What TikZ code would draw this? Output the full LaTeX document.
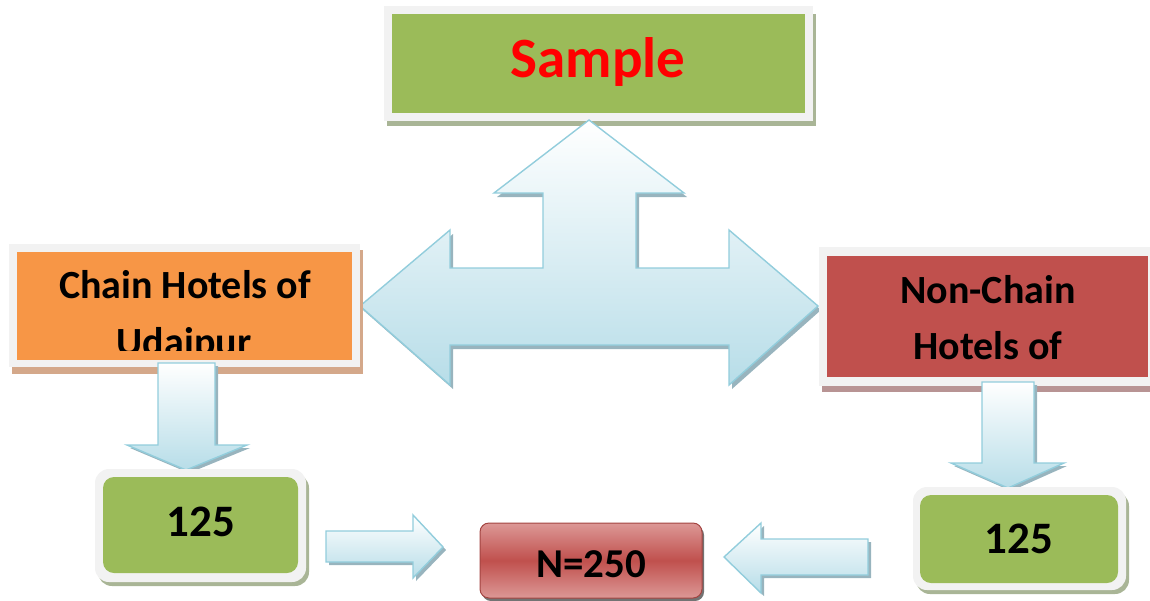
\documentclass[tikz,border=0pt]{standalone}
\usepackage{fontspec}
\setmainfont{Carlito}
\definecolor{cgreen}{HTML}{9BBB59}
\definecolor{corange}{HTML}{F79646}
\definecolor{cred}{HTML}{C0504D}
\definecolor{clightred}{HTML}{DC9896}
\definecolor{cframe}{HTML}{F2F2F2}
\definecolor{aedge}{HTML}{92CDDC}
\definecolor{abot}{HTML}{B7DDE8}
\definecolor{ashadow}{HTML}{98B4BE}
\definecolor{gshadow}{HTML}{A9B596}
\definecolor{oshadow}{HTML}{D4A88A}
\definecolor{rshadow}{HTML}{B89494}
\tikzset{
  boxfill/.style={inner sep=0pt, outer sep=0pt, draw=none},
  frame/.style={fill=cframe},
  blockarrow/.style={draw=aedge, line width=1.4pt, line join=miter, top color=white, bottom color=abot},
  arrowshadow/.style={fill=ashadow},
  lbl/.style={anchor=base, font=\bfseries\fontsize{40}{48}\selectfont, text=black, inner sep=0pt},
  numlbl/.style={anchor=base, font=\bfseries\fontsize{45}{54}\selectfont, text=black, inner sep=0pt}
}
\begin{document}
\begin{tikzpicture}[x=1pt,y=-1pt]
\useasboundingbox (0,0) rectangle (1150,600);

% ---------- Sample box
\fill[gshadow] (387,14) rectangle (816,126);
\fill[frame] (384,6) rectangle (813,121);
\node[boxfill, fill=cgreen, minimum width=413pt, minimum height=99pt] (sample) at (598.5,63.5) {};
\node[anchor=base, font=\bfseries\fontsize{57}{60}\selectfont, text=red, inner sep=0pt] (sampletxt) at (598,77) {Sample};

% ---------- triple arrow
\begin{scope}[shift={(3,4)}]
\fill[arrowshadow] (589,120) -- (684,193) -- (636,193) -- (636,268) -- (729,268) -- (729,230) -- (818,306) -- (729,385) -- (729,345) -- (450,345) -- (450,385) -- (360,306) -- (450,230) -- (450,268) -- (543,268) -- (543,193) -- (494,193) -- cycle;
\end{scope}
\draw[blockarrow] (589,120) -- (684,193) -- (636,193) -- (636,268) -- (729,268) -- (729,230) -- (818,306) -- (729,385) -- (729,345) -- (450,345) -- (450,385) -- (360,306) -- (450,230) -- (450,268) -- (543,268) -- (543,193) -- (494,193) -- cycle;

% ---------- Chain hotels box
\fill[oshadow] (12,250) rectangle (363,374);
\fill[frame] (9,244) rectangle (360,367);
\node[boxfill, fill=corange, minimum width=335pt, minimum height=108pt] (chain) at (184.5,306) {};
\begin{scope}
\clip (17,252) rectangle (352,350);
\node[lbl] (chaintxt1) at (185,298) {Chain Hotels of};
\node[lbl] (chaintxt2) at (184,355) {Udaipur};
\end{scope}

% ---------- Non-chain box
\fill[rshadow] (822,252) rectangle (1150,392);
\fill[frame] (819,247) rectangle (1150,386);
\node[boxfill, fill=cred, minimum width=321pt, minimum height=121pt] (nonchain) at (987.5,316.5) {};
\node[lbl] (nonchaintxt1) at (988,303) {Non-Chain};
\node[lbl] (nonchaintxt2) at (988,359) {Hotels of};

% ---------- down arrows
\begin{scope}[shift={(3,3)}]
\fill[arrowshadow] (158,363) -- (215,363) -- (215,445) -- (247,445) -- (186,470) -- (127,445) -- (158,445) -- cycle;
\fill[arrowshadow] (982,382) -- (1034,382) -- (1034,463) -- (1064,463) -- (1008,488) -- (951,463) -- (982,463) -- cycle;
\end{scope}
\draw[blockarrow] (158,363) -- (215,363) -- (215,445) -- (247,445) -- (186,470) -- (127,445) -- (158,445) -- cycle;
\draw[blockarrow] (982,382) -- (1034,382) -- (1034,463) -- (1064,463) -- (1008,488) -- (951,463) -- (982,463) -- cycle;

% ---------- 125 left
\fill[gshadow, rounded corners=14pt] (98,474) rectangle (309,586);
\fill[frame, rounded corners=14pt] (95,469) rectangle (306,582);
\node[boxfill, fill=cgreen, rounded corners=11pt, minimum width=195pt, minimum height=96pt] (leftnum) at (200.5,525) {};
\node[numlbl] (leftnumtxt) at (201,536) {125};

% ---------- 125 right
\fill[gshadow, rounded corners=14pt] (916,492) rectangle (1129,594);
\fill[frame, rounded corners=14pt] (913,487) rectangle (1126,590);
\node[boxfill, fill=cgreen, rounded corners=11pt, minimum width=198pt, minimum height=88pt] (rightnum) at (1019,539) {};
\node[numlbl] (rightnumtxt) at (1019,553) {125};

% ---------- N=250
\fill[black!55, rounded corners=9pt] (482,526) rectangle (704,601);
\node[inner sep=0pt, outer sep=0pt, draw=cred!85!black, line width=1pt, rounded corners=9pt,
      top color=clightred, bottom color=clightred, middle color=cred,
      minimum width=222pt, minimum height=75pt] (total) at (591,560.5) {};
\node[anchor=base, font=\bfseries\fontsize{41}{48}\selectfont, inner sep=0pt] (totaltxt) at (591,577) {N=250};

% ---------- horizontal arrows
\begin{scope}[shift={(3,3)}]
\fill[arrowshadow] (326,531) -- (413,531) -- (413,515) -- (443,547) -- (413,578) -- (413,562) -- (326,562) -- cycle;
\fill[arrowshadow] (868,539) -- (761,539) -- (761,523) -- (724,557) -- (761,593) -- (761,575) -- (868,575) -- cycle;
\end{scope}
\draw[blockarrow] (326,531) -- (413,531) -- (413,515) -- (443,547) -- (413,578) -- (413,562) -- (326,562) -- cycle;
\draw[blockarrow] (868,539) -- (761,539) -- (761,523) -- (724,557) -- (761,593) -- (761,575) -- (868,575) -- cycle;
\end{tikzpicture}
\end{document}
